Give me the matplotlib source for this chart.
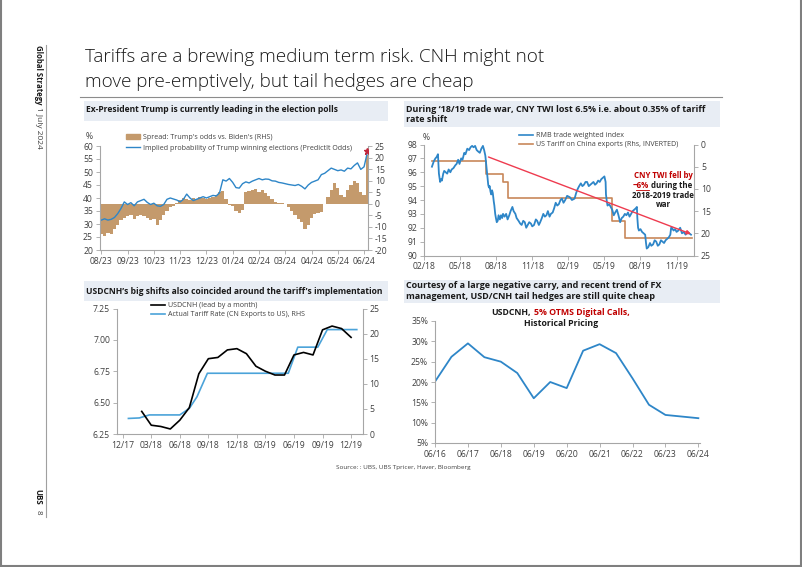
import numpy as np
import matplotlib
matplotlib.use("Agg")
import matplotlib.pyplot as plt
from matplotlib.patches import Rectangle, Patch
from matplotlib.lines import Line2D

W, H = 802, 567
plt.rcParams['font.family'] = ['Open Sans', 'DejaVu Sans']
plt.rcParams['axes.unicode_minus'] = False

# ---------------- chart 1 : Trump odds ----------------
c1_labels = ['08/23', '09/23', '10/23', '11/23', '12/23', '01/24',
             '02/24', '03/24', '04/24', '05/24', '06/24']
# month index, sampled every 1/8 month
c1_x = np.arange(82) * 0.125
c1_prob = [31.5, 32.0, 31.5, 31.8, 32.5,
           34.0, 36.0, 38.5, 37.5,
           38.2, 37.0, 38.5, 39.0,
           39.5, 38.3, 37.5, 38.0,
           37.0, 36.8, 37.5, 39.5,
           40.0, 39.6, 39.2, 38.5,
           39.5, 41.5, 40.0, 39.0,
           39.5, 40.0, 40.5, 40.0,
           40.5, 41.0, 40.8, 42.0,
           47.0, 46.5, 47.5, 46.0,
           44.0, 43.8, 45.5, 46.2,
           45.8, 46.5, 47.0, 47.5,
           47.0, 47.3, 47.2, 46.6,
           46.5, 46.0, 45.8, 45.5,
           45.2, 45.0, 44.8, 45.2,
           44.5, 43.5, 45.0, 46.0,
           46.5, 47.0, 49.0, 49.5,
           50.5, 51.5, 51.0, 50.5,
           50.8, 50.3, 51.5, 51.2,
           52.5, 53.5, 51.0, 52.0,
           57.5]
c1_spread = [-13, -14, -12.5, -13, -11,
             -9, -7, -6, -5.5,
             -5, -6.5, -5.5, -5,
             -5.5, -6, -7, -6.5,
             -9, -7, -5, -3,
             -1.5, -1, 0.5, 1.5,
             2.5, 2, 1.5, 2.5,
             2, 3, 2.5, 2,
             2.5, 3, 4, 5,
             5.5, 2, -0.5, -1,
             -3, -4, -2.5, 5,
             5.5, 6, 6.5, 5,
             6, 4.5, 3.5, 2,
             0.8, 0.3, 0.5, 0,
             -1.5, -3, -5, -6.5,
             -8, -11, -9, -6,
             -4.5, -4, -3.5, 0,
             3, 6, 9, 7,
             4, 3, 6, 8,
             10, 9, 5, 4,
             21]
c1_last = 58.0

# ---------------- chart 2 : CNY TWI vs tariff ----------------
c2_labels = ['02/18', '05/18', '08/18', '11/18', '02/19', '05/19', '08/19', '11/19']
c2_twi = [(0.66, 96.4), (0.82, 96.8), (0.95, 97.0), (1.05, 97.1), (1.16, 97.3), (1.24, 95.9), (1.34, 95.3),
          (1.42, 95.5), (1.49, 95.4), (1.6, 95.9), (1.68, 96.1), (1.8, 96.0), (1.93, 95.9),
          (2.05, 96.2), (2.19, 96.0), (2.3, 96.2), (2.45, 96.3), (2.6, 96.5), (2.71, 96.6),
          (2.84, 96.9), (2.95, 96.6), (3.09, 97.0), (3.2, 96.9), (3.35, 97.4), (3.45, 97.3),
          (3.6, 97.7), (3.75, 97.6), (3.87, 97.8), (4.0, 97.9), (4.12, 97.8), (4.25, 97.9),
          (4.38, 97.6), (4.5, 97.5), (4.64, 97.4), (4.77, 97.7), (4.9, 97.9), (5.0, 97.6),
          (5.1, 97.2), (5.2, 96.3), (5.28, 95.6), (5.34, 95.1), (5.4, 94.9), (5.46, 95.0),
          (5.53, 94.6), (5.59, 94.4), (5.66, 94.7), (5.72, 94.5), (5.8, 93.9), (5.85, 93.6),
          (5.92, 93.0), (5.98, 92.7), (6.05, 92.4), (6.13, 92.5), (6.2, 92.9), (6.31, 92.6),
          (6.4, 92.9), (6.5, 92.7), (6.57, 93.0), (6.7, 92.8), (6.83, 93.0), (6.95, 92.6),
          (7.09, 92.9), (7.2, 93.2), (7.35, 93.5), (7.45, 93.2), (7.6, 93.0), (7.7, 92.7),
          (7.86, 92.5), (8.0, 92.3), (8.12, 92.2), (8.25, 92.5), (8.38, 92.4), (8.5, 92.0),
          (8.63, 92.2), (8.75, 92.4), (8.89, 92.3), (9.0, 92.1), (9.15, 92.2), (9.3, 92.6),
          (9.41, 92.5), (9.55, 92.2), (9.66, 92.4), (9.8, 92.7), (9.92, 93.0), (10.05, 92.8),
          (10.18, 92.9), (10.3, 93.2), (10.44, 92.8), (10.55, 93.0), (10.7, 93.1), (10.82, 93.4),
          (10.95, 93.8), (11.08, 93.6), (11.21, 93.7), (11.35, 94.0), (11.47, 94.1), (11.6, 93.8),
          (11.74, 94.0), (11.9, 94.3), (12.13, 94.2), (12.3, 94.0), (12.52, 94.1), (12.65, 94.5),
          (12.78, 94.8), (12.9, 95.0), (13.04, 95.2), (13.17, 95.0), (13.3, 95.1), (13.43, 95.3),
          (13.56, 95.3), (13.7, 95.0), (13.83, 95.1), (13.96, 95.2), (14.09, 95.3), (14.22, 95.1),
          (14.35, 95.2), (14.48, 95.4), (14.61, 95.3), (14.74, 95.5), (14.87, 95.6), (15.0, 95.7),
          (15.1, 95.3), (15.13, 94.4), (15.2, 93.9), (15.26, 93.6), (15.4, 93.7), (15.52, 93.5),
          (15.65, 93.3), (15.78, 92.9), (15.9, 93.1), (16.04, 93.3), (16.17, 92.9), (16.31, 92.4),
          (16.44, 92.7), (16.57, 92.8), (16.7, 93.0), (16.83, 92.9), (16.96, 93.1), (17.09, 92.8),
          (17.22, 93.0), (17.35, 93.2), (17.48, 93.3), (17.61, 93.4), (17.7, 93.5), (17.74, 92.7),
          (17.8, 92.0), (17.87, 91.8), (18.0, 91.9), (18.13, 91.7), (18.26, 91.6), (18.39, 91.5),
          (18.46, 90.9), (18.52, 90.5), (18.65, 90.6), (18.79, 90.9), (18.9, 90.7), (19.05, 90.8),
          (19.18, 91.1), (19.31, 91.0), (19.44, 90.7), (19.57, 90.8), (19.7, 91.1), (19.83, 91.0),
          (19.96, 90.9), (20.09, 91.1), (20.22, 91.2), (20.35, 91.3), (20.48, 91.5), (20.55, 92.0),
          (20.61, 92.0), (20.75, 91.8), (20.88, 91.9), (21.0, 91.7), (21.15, 91.8), (21.3, 92.0),
          (21.45, 91.6), (21.6, 91.7), (21.75, 91.5), (21.9, 91.7), (22.05, 91.6), (22.2, 91.5)]
c2_tariff_m = [0.66, 5.15, 6.6, 7.0, 15.6, 16.7, 22.3]
c2_tariff_v = [3.8, 6.7, 8.4, 12.0, 17.3, 21.1, 21.1]
c2_trend_m = [5.36, 22.2]
c2_trend_v = [97.1, 91.55]

# ---------------- chart 3 : USDCNH vs tariff rate ----------------
c3_labels = ['12/17', '03/18', '06/18', '09/18', '12/18', '03/19', '06/19', '09/19', '12/19']
c3_cnh_m = list(range(2, 25))
c3_cnh = [6.43, 6.32, 6.31, 6.29, 6.36, 6.46, 6.73, 6.85, 6.86, 6.92, 6.93, 6.89,
          6.79, 6.75, 6.72, 6.72, 6.88, 6.90, 6.88, 7.08, 7.11, 7.09, 7.02]
c3_rate_m = [0.6, 1.75, 2.8, 6.0, 7.0, 7.8, 8.9, 17.4, 18.4, 20.5, 21.5, 24.6]
c3_rate = [3.1, 3.2, 3.8, 3.8, 5.1, 7.4, 12.1, 12.1, 17.3, 17.3, 20.8, 20.8]

# ---------------- chart 4 : digital call pricing ----------------
c4_labels = ['06/16', '06/17', '06/18', '06/19', '06/20', '06/21', '06/22', '06/23', '06/24']
c4_price = [20.1, 26.2, 29.5, 26.1, 25.0, 22.2, 16.0, 20.0, 18.5,
            27.7, 29.3, 27.1, 20.9, 14.4, 11.9, 11.5, 11.1]

BLUE = '#2E86C8'
TAN = '#C49A6C'
ORANGE = '#C8875A'
RED = '#EE3B4F'
DKRED = '#C00000'
GRID = '#A6A6A6'
TXT = '#404040'
HEAD_FS = 6.1
LEG_FS = 5.1
TICK_FS = 6.2


def fx(x):
    return x / W


def fy(y):
    return 1 - y / H


fig = plt.figure(figsize=(W / 100, H / 100), dpi=100)


def box(l, t, r, b):
    return fig.add_axes([fx(l), fy(b), (r - l) / W, (b - t) / H])


def style(ax, left=True, right=False):
    for s in ['top', 'left', 'right', 'bottom']:
        ax.spines[s].set_visible(False)
    ax.spines['bottom'].set_visible(True)
    if left:
        ax.spines['left'].set_visible(True)
    if right:
        ax.spines['right'].set_visible(True)
    for s in ax.spines.values():
        s.set_color(GRID)
        s.set_linewidth(0.8)
    ax.tick_params(labelsize=TICK_FS, colors=TXT, length=3, width=0.6, color=GRID, pad=2)


def heading(l, t, r, b, lines, y0, dy=10.5, fs=HEAD_FS):
    fig.add_artist(Rectangle((fx(l), fy(b)), (r - l) / W, (b - t) / H,
                             transform=fig.transFigure, color='#E8EDF4', lw=0, zorder=0))
    for i, s in enumerate(lines):
        fig.text(fx(l + 2), fy(y0 + i * dy), s, fontsize=fs, fontweight='bold',
                 color='#1A1A1A', va='center', ha='left')


# ---- page furniture ----
fig.text(fx(85), fy(62), 'Tariffs are a brewing medium term risk. CNH might not',
         fontsize=13.6, fontweight='light', color='#1A1A1A', va='baseline', ha='left')
fig.text(fx(85), fy(87), 'move pre-emptively, but tail hedges are cheap',
         fontsize=13.6, fontweight='light', color='#1A1A1A', va='baseline', ha='left')
fig.add_artist(Line2D([fx(80), fx(722)], [fy(97), fy(97)], color='#8C8C8C', lw=0.8))
fig.add_artist(Line2D([fx(46), fx(46)], [fy(45), fy(517)], color='#A0A0A0', lw=0.8))
fig.text(fx(38), fy(45), 'Global Strategy', rotation=-90, fontsize=5.6, fontweight='bold',
         ha='center', va='top', color='#1A1A1A')
fig.text(fx(38), fy(107), '1 July 2024', rotation=-90, fontsize=6.0,
         ha='center', va='top', color=TXT)
fig.text(fx(38), fy(489), 'UBS', rotation=-90, fontsize=5.8, fontweight='bold',
         ha='center', va='top', color='#1A1A1A')
fig.text(fx(38), fy(510), '8', rotation=-90, fontsize=5.8,
         ha='center', va='top', color=TXT)
fig.add_artist(Line2D([fx(0.8), fx(0.8)], [0, 1], color='#7F7F7F', lw=1.5))
fig.add_artist(Line2D([fx(800.5), fx(800.5)], [0, 1], color='#7F7F7F', lw=1.5))
fig.add_artist(Line2D([0, 1], [fy(565.5), fy(565.5)], color='#7F7F7F', lw=1.5))
fig.text(fx(336), fy(468), 'Source: : UBS, UBS Tpricer, Haver, Bloomberg', fontsize=4.6,
         color=TXT, va='center', ha='left')

# ---- chart 1 ----
heading(84, 101, 388, 121, ['Ex-President Trump is currently leading in the election polls'], 110)
ax1 = box(100, 146, 368, 250)
ax1b = ax1.twinx()
ax1b.bar(c1_x, c1_spread, width=0.125, color=TAN, lw=0)
ax1.plot(c1_x, c1_prob, color=BLUE, lw=1.0)
ax1.plot(c1_x[-1], c1_last, marker='*', color='#C0263A', ms=5, lw=0)
ax1.set_zorder(ax1b.get_zorder() + 1)
ax1.patch.set_visible(False)
ax1.set_ylim(20, 60)
ax1b.set_ylim(-20, 25)
ax1.set_xlim(-0.05, 10.15)
ax1.set_yticks(range(20, 61, 5))
ax1b.set_yticks(range(-20, 26, 5))
ax1.set_xticks(range(len(c1_labels)))
ax1.set_xticklabels(c1_labels)
style(ax1)
style(ax1b, left=False, right=True)
ax1b.spines['bottom'].set_visible(False)
fig.text(fx(86), fy(137), '%', fontsize=TICK_FS, color=TXT, va='center')
ax1.legend([Patch(color=TAN), Line2D([], [], color=BLUE, lw=1)],
           ["Spread: Trump's odds vs. Biden's (RHS)",
            'Implied probability of Trump winning elections (PredictIt Odds)'],
           loc='upper left', bbox_to_anchor=(fx(126), fy(134)), bbox_transform=fig.transFigure,
           frameon=False, fontsize=LEG_FS, handlelength=2.0, handleheight=0.8,
           handletextpad=0.4, labelspacing=0.45, borderaxespad=0, borderpad=0,
           labelcolor=TXT)

# ---- chart 2 ----
heading(404, 101, 720, 127, ["During \u201818/19 trade war, CNY TWI lost 6.5% i.e. about 0.35% of tariff",
                             'rate shift'], 110, dy=10, fs=6.5)
ax2 = box(424, 144.5, 694, 255.5)
ax2b = ax2.twinx()
ax2b.plot(c2_tariff_m, c2_tariff_v, drawstyle='steps-post', color=ORANGE, lw=1.2)
tm, tv = zip(*c2_twi)
ax2.plot(tm, tv, color=BLUE, lw=1.3)
ax2.annotate('', xy=(c2_trend_m[1], c2_trend_v[1]), xytext=(c2_trend_m[0], c2_trend_v[0]),
             arrowprops=dict(arrowstyle='-|>', color=RED, lw=1.0, mutation_scale=6,
                             shrinkA=0, shrinkB=0))
ax2.set_zorder(ax2b.get_zorder() + 1)
ax2.patch.set_visible(False)
ax2.set_ylim(90, 98)
ax2b.set_ylim(25, 0)
ax2.set_xlim(0.65, 22.45)
ax2.set_xticks(range(0, 22, 3))
ax2.set_xticklabels(c2_labels)
ax2.set_yticks(range(90, 99))
ax2b.set_yticks(range(0, 26, 5))
style(ax2)
style(ax2b, left=False, right=True)
ax2b.spines['bottom'].set_visible(False)
fig.text(fx(423), fy(138), '%', fontsize=TICK_FS, color=TXT, va='center')
ax2.legend([Line2D([], [], color=BLUE, lw=1.2), Line2D([], [], color=ORANGE, lw=1.2)],
           ['RMB trade weighted index', 'US Tariff on China exports (Rhs, INVERTED)'],
           loc='upper left', bbox_to_anchor=(fx(519), fy(132)), bbox_transform=fig.transFigure,
           frameon=False, fontsize=LEG_FS, handlelength=2.0, handletextpad=0.4,
           labelspacing=0.3, borderaxespad=0, borderpad=0, labelcolor=TXT)
ANN_FS = 5.7
fig.text(fx(663), fy(176), 'CNY TWI fell by', fontsize=ANN_FS, fontweight='bold', color=DKRED,
         ha='center', va='center')
fig.text(fx(649), fy(185.5), '~6%', fontsize=ANN_FS, fontweight='bold', color=DKRED,
         ha='right', va='center')
fig.add_artist(Line2D([fx(636), fx(649)], [fy(190), fy(190)], color=DKRED, lw=0.6))
fig.text(fx(651), fy(185.5), 'during the', fontsize=ANN_FS, fontweight='bold', color='#1A1A1A',
         ha='left', va='center')
fig.text(fx(663), fy(195), '2018-2019 trade', fontsize=ANN_FS, fontweight='bold', color='#1A1A1A',
         ha='center', va='center')
fig.text(fx(663), fy(204.5), 'war', fontsize=ANN_FS, fontweight='bold', color='#1A1A1A',
         ha='center', va='center')

# ---- chart 3 ----
heading(84, 281, 388, 301, ["USDCNH\u2019s big shifts also coincided around the tariff\u2019s implementation"], 291)
ax3 = box(117, 308.5, 362.5, 434)
ax3b = ax3.twinx()
ax3b.plot(c3_rate_m, c3_rate, color='#4BA3D9', lw=1.2)
ax3.plot(c3_cnh_m, c3_cnh, color='black', lw=1.2)
ax3.set_zorder(ax3b.get_zorder() + 1)
ax3.patch.set_visible(False)
ax3.set_ylim(6.25, 7.25)
ax3b.set_ylim(0, 25)
ax3.set_xlim(-0.6, 25.2)
ax3.set_xticks(range(0, 25, 3))
ax3.set_xticklabels(c3_labels)
ax3.set_yticks([6.25, 6.5, 6.75, 7.0, 7.25])
ax3.set_yticklabels(['6.25', '6.50', '6.75', '7.00', '7.25'])
ax3b.set_yticks(range(0, 26, 5))
style(ax3)
style(ax3b, left=False, right=True)
ax3b.spines['bottom'].set_visible(False)
ax3.legend([Line2D([], [], color='black', lw=1.2), Line2D([], [], color='#4BA3D9', lw=1.2)],
           ['USDCNH (lead by a month)', 'Actual Tariff Rate (CN Exports to US), RHS'],
           loc='upper left', bbox_to_anchor=(fx(151), fy(302)), bbox_transform=fig.transFigure,
           frameon=False, fontsize=LEG_FS, handlelength=2.0, handletextpad=0.4,
           labelspacing=0.35, borderaxespad=0, borderpad=0, labelcolor=TXT)

# ---- chart 4 ----
heading(404, 280, 720, 303, ['Courtesy of a large negative carry, and recent trend of FX',
                             'management, USD/CNH tail hedges are still quite cheap'], 286,
        dy=10.5, fs=6.5)
ax4 = box(435, 321, 700, 443)
ax4.plot(np.arange(len(c4_price)) * 0.5, c4_price, color=BLUE, lw=1.3)
ax4.set_ylim(5, 35)
ax4.set_xlim(0, 8.05)
ax4.set_yticks(range(5, 36, 5))
ax4.set_yticklabels([f'{v}%' for v in range(5, 36, 5)])
ax4.set_xticks(range(len(c4_labels)))
ax4.set_xticklabels(c4_labels)
style(ax4)
T4_FS = 6.3
fig.text(fx(531), fy(312.5), 'USDCNH,', fontsize=T4_FS, fontweight='bold', color='#1A1A1A',
         ha='right', va='center')
fig.text(fx(533.5), fy(312.5), '5% OTMS Digital Calls,', fontsize=T4_FS, fontweight='bold',
         color=DKRED, ha='left', va='center')
fig.text(fx(561), fy(323), 'Historical Pricing', fontsize=T4_FS, fontweight='bold',
         color='#1A1A1A', ha='center', va='center')

fig.savefig('out.png', dpi=100)
